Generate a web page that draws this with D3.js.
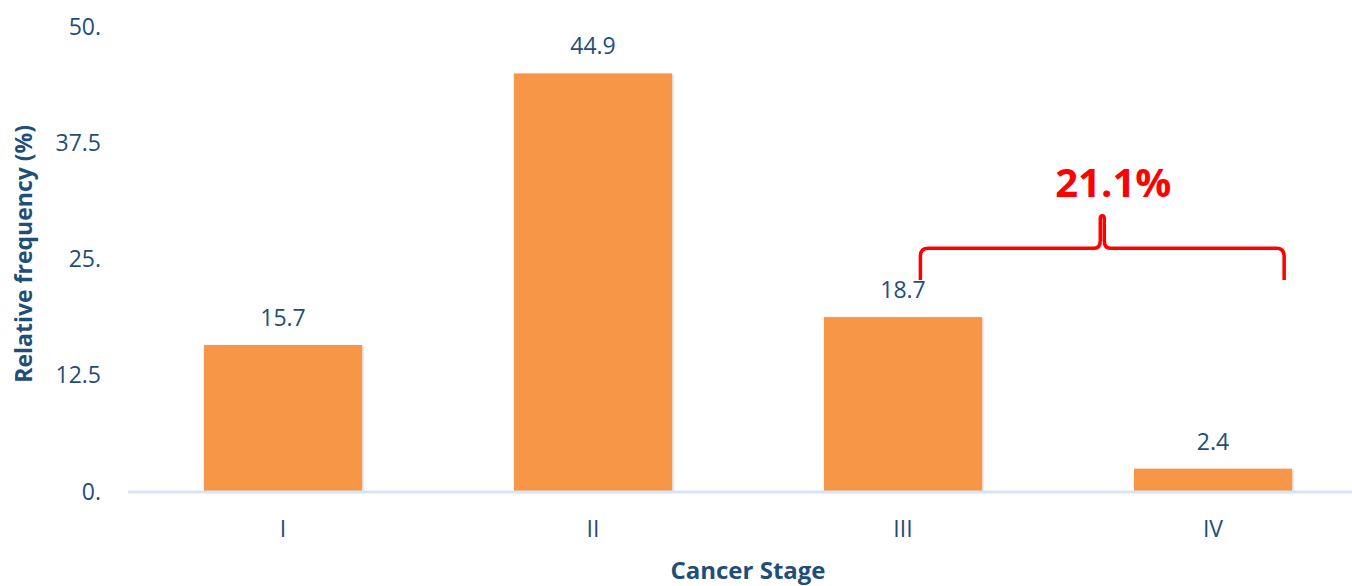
<!DOCTYPE html>
<html>
<head>
<meta charset="utf-8">
<script src="https://cdn.jsdelivr.net/npm/d3@7"></script>
<style>
  body { margin: 0; background: #fff; }
  text { font-family: "Open Sans", sans-serif; }
</style>
</head>
<body>
<div id="chart"></div>
<script>
// data
var stages = ["I", "II", "III", "IV"];
var frequency = [15.7, 44.9, 18.7, 2.4];
var tickValues = [0, 12.5, 25, 37.5, 50];
var tickLabels = ["0.", "12.5", "25.", "37.5", "50."];
var bracketStages = ["III", "IV"];
var bracketLabel = "21.1%";

var width = 1352, height = 586;
var margin = { top: 26, right: -16, bottom: 95, left: 128 };

var svg = d3.select("#chart")
    .append("svg")
    .attr("width", width)
    .attr("height", height);

// light shadow under the bars
var defs = svg.append("defs");
defs.append("filter")
    .attr("id", "shadow")
    .attr("x", "-10%").attr("y", "-10%")
    .attr("width", "120%").attr("height", "120%")
    .append("feDropShadow")
    .attr("dx", 1).attr("dy", 1)
    .attr("stdDeviation", 1.2)
    .attr("flood-color", "#000")
    .attr("flood-opacity", 0.25);

var x_scale = d3.scaleBand()
    .domain(stages)
    .range([margin.left, width - margin.right])
    .paddingInner(0.49)
    .paddingOuter(0.245);

var y_scale = d3.scaleLinear()
    .domain([0, 50])
    .range([height - margin.bottom, margin.top]);

var textColor = "#1F4E79";

// y tick labels
var yAxis = svg.append("g")
    .attr("transform", "translate(" + (margin.left - 27) + ",0)")
    .call(d3.axisLeft(y_scale)
        .tickValues(tickValues)
        .tickSize(0)
        .tickFormat(function (d, i) { return tickLabels[i]; }));
yAxis.select(".domain").remove();
yAxis.selectAll("text")
    .attr("x", 0)
    .attr("dy", "0.35em")
    .style("font-size", "23px")
    .style("font-family", "Open Sans, sans-serif")
    .attr("fill", textColor);

// bars
var data = stages.map(function (s, i) { return { stage: s, value: frequency[i] }; });

svg.append("g")
    .selectAll("rect")
    .data(data)
    .join("rect")
    .attr("x", function (d) { return x_scale(d.stage); })
    .attr("y", function (d) { return y_scale(d.value); })
    .attr("width", x_scale.bandwidth())
    .attr("height", function (d) { return y_scale(0) - y_scale(d.value); })
    .attr("fill", "#F79646")
    .attr("filter", "url(#shadow)");

// baseline
svg.append("line")
    .attr("x1", margin.left)
    .attr("x2", width)
    .attr("y1", y_scale(0) + 1)
    .attr("y2", y_scale(0) + 1)
    .attr("stroke", "#D6E4F5")
    .attr("stroke-width", 3);

// value labels
svg.append("g")
    .selectAll("text")
    .data(data)
    .join("text")
    .attr("x", function (d) { return x_scale(d.stage) + x_scale.bandwidth() / 2; })
    .attr("y", function (d) { return y_scale(d.value) - 19; })
    .attr("text-anchor", "middle")
    .attr("fill", textColor)
    .style("font-size", "23px")
    .text(function (d) { return d.value; });

// x category labels
var xAxis = svg.append("g")
    .attr("transform", "translate(0," + y_scale(0) + ")")
    .call(d3.axisBottom(x_scale).tickSize(0));
xAxis.select(".domain").remove();
xAxis.selectAll("text")
    .attr("y", 46)
    .attr("dy", 0)
    .style("font-size", "23px")
    .style("font-family", "Open Sans, sans-serif")
    .attr("fill", textColor);

// axis titles
svg.append("text")
    .attr("x", (margin.left + width - margin.right) / 2)
    .attr("y", 579)
    .attr("text-anchor", "middle")
    .attr("fill", textColor)
    .style("font-size", "24px")
    .style("font-weight", "bold")
    .text("Cancer Stage");

svg.append("text")
    .attr("transform", "translate(32," + y_scale(25.5) + ") rotate(-90)")
    .attr("text-anchor", "middle")
    .attr("fill", textColor)
    .style("font-size", "23px")
    .style("font-weight", "bold")
    .text("Relative frequency (%)");

// curly bracket over stages III and IV
var bx0 = x_scale(bracketStages[0]) + x_scale.bandwidth() * 0.61;
var bx1 = x_scale(bracketStages[1]) + x_scale.bandwidth() * 0.95;
var bmid = (bx0 + bx1) / 2;
var yEnd = y_scale(22.7), yBar = y_scale(26.1), yTip = y_scale(29.6);
var r = 8;

var p = d3.path();
p.moveTo(bx0, yEnd);
p.lineTo(bx0, yBar + r);
p.quadraticCurveTo(bx0, yBar, bx0 + r, yBar);
p.lineTo(bmid - r, yBar);
p.quadraticCurveTo(bmid - 2, yBar, bmid - 2, yBar - r);
p.lineTo(bmid - 2, yTip + 3);
p.quadraticCurveTo(bmid - 2, yTip, bmid, yTip);
p.quadraticCurveTo(bmid + 2, yTip, bmid + 2, yTip + 3);
p.lineTo(bmid + 2, yBar - r);
p.quadraticCurveTo(bmid + 2, yBar, bmid + r, yBar);
p.lineTo(bx1 - r, yBar);
p.quadraticCurveTo(bx1, yBar, bx1, yBar + r);
p.lineTo(bx1, yEnd);

svg.append("path")
    .attr("d", p.toString())
    .attr("fill", "none")
    .attr("stroke", "#FF0000")
    .attr("stroke-width", 3.5)
    .attr("stroke-linejoin", "round");

svg.append("text")
    .attr("x", bmid + 11)
    .attr("y", y_scale(31.6))
    .attr("text-anchor", "middle")
    .attr("fill", "#FF0000")
    .style("font-size", "40px")
    .style("font-weight", "bold")
    .text(bracketLabel);
</script>
</body>
</html>
